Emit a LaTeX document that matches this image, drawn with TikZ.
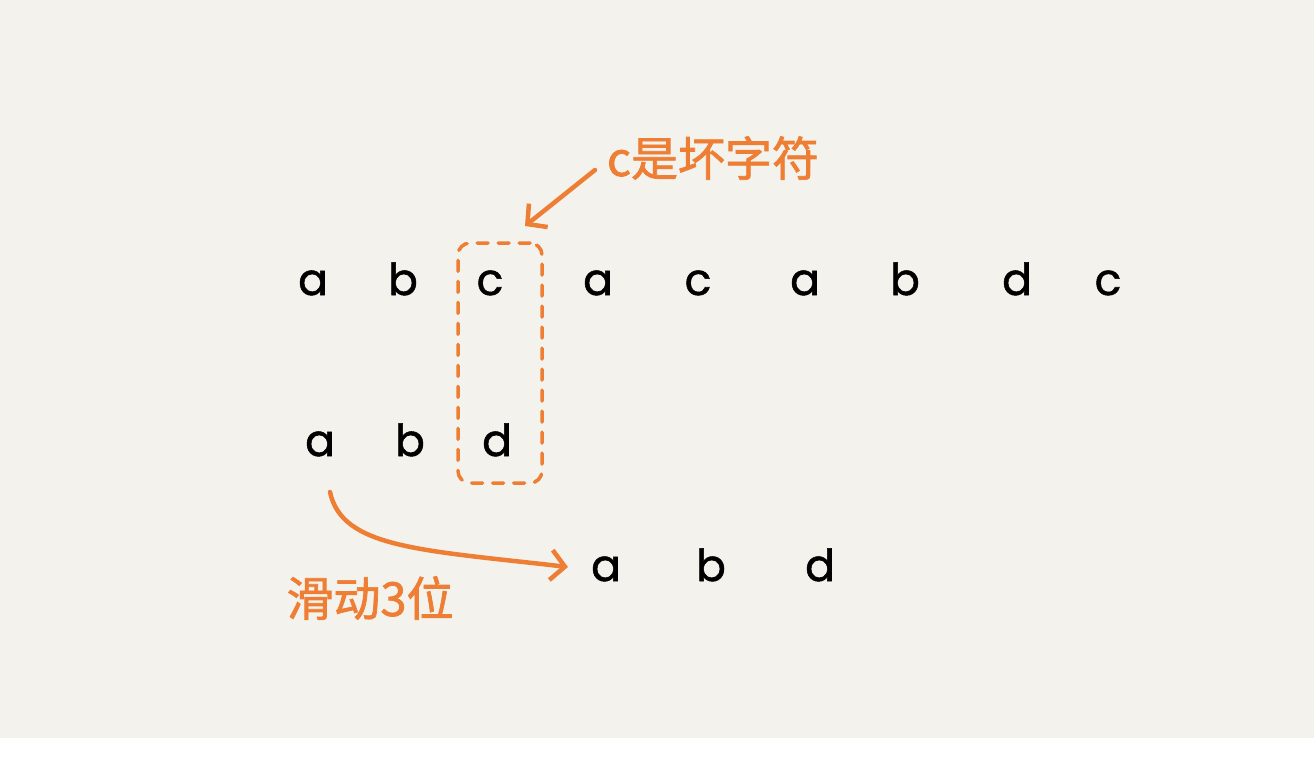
\documentclass[tikz,border=0pt]{standalone}
\usepackage{fontspec}
\newfontfamily\letterfont[FakeBold=1.2]{Poppins}
\newfontfamily\cjk[FakeBold=1.5]{Noto Sans CJK SC}
\usetikzlibrary{arrows.meta}
\definecolor{bgbeige}{HTML}{F4F2ED}
\definecolor{hlorange}{HTML}{EE7E33}
\tikzset{
  letter/.style={font=\letterfont\fontsize{44}{44}\selectfont, text=black, inner sep=0pt, anchor=base},
  note/.style={font=\cjk\fontsize{47}{47}\selectfont, text=hlorange, inner sep=0pt},
  hlarrow/.style={draw=hlorange, line width=4.5pt, line cap=round, -{Straight Barb[length=14pt,width=30pt,line width=4.5pt]}},
  badbox/.style={draw=hlorange, line width=3.5pt, line cap=round, dash pattern=on 11pt off 10pt, rounded corners=12pt}
}
\begin{document}
\begin{tikzpicture}[x=1pt,y=-1pt]
\useasboundingbox (0,0) rectangle (1314,776);
\fill[white] (0,0) rectangle (1314,776);
\fill[bgbeige] (0,0) rectangle (1314,738);
% row 1
\foreach \ch/\x [count=\i] in {a/313,b/403,c/490,a/598,c/698,a/805,b/905,d/1017,c/1108}
  \node[letter] (t\i) at (\x,295) {\ch};
% row 2
\foreach \ch/\x [count=\i] in {a/320,b/410,d/497}
  \node[letter] (p\i) at (\x,456) {\ch};
% row 3
\foreach \ch/\x [count=\i] in {a/606,b/711,d/820}
  \node[letter] (q\i) at (\x,581) {\ch};
% dashed box around bad character
\node[badbox, minimum width=84pt, minimum height=240pt] (box) at (500,363) {};
% labels
\node[note] (lbl1) at (713,158) {c是坏字符};
\node[note] (lbl2) at (370,598) {滑动3位};
\coordinate (s1) at (595,170);
\coordinate (e1) at (525,226);
\draw[hlarrow] (s1) -- (e1);
\coordinate (s2) at (330,492);
\coordinate (e2) at (568,567);
\draw[hlarrow] (s2) .. controls (342,548) and (420,550) .. (e2);
\end{tikzpicture}
\end{document}
